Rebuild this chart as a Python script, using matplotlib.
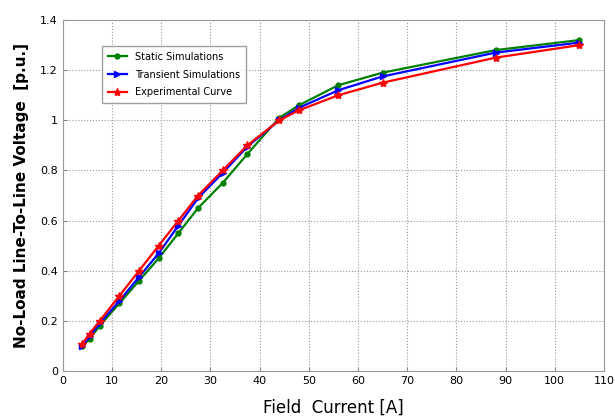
import matplotlib.pyplot as plt

field_current = [4, 5.5, 7.5, 11.5, 15.5, 19.5, 23.5, 27.5, 32.5, 37.5, 44, 48, 56, 65, 88, 105]
static_sim = [0.10, 0.13, 0.18, 0.27, 0.36, 0.45, 0.55, 0.65, 0.75, 0.865, 1.01, 1.06, 1.14, 1.19, 1.28, 1.32]
transient_sim = [0.10, 0.14, 0.19, 0.28, 0.375, 0.47, 0.58, 0.69, 0.79, 0.895, 1.0, 1.05, 1.12, 1.175, 1.27, 1.31]
experimental = [0.11, 0.15, 0.20, 0.30, 0.40, 0.50, 0.60, 0.70, 0.80, 0.90, 1.0, 1.04, 1.10, 1.15, 1.25, 1.30]

fig = plt.figure(figsize=(6.15, 4.17), dpi=100)
ax = fig.add_axes([0.102, 0.110, 0.880, 0.842])

ax.plot(field_current, static_sim, color="#008000", marker=".", markersize=7, lw=1.6, label="Static Simulations")
ax.plot(field_current, transient_sim, color="blue", marker=">", markersize=4.5, lw=1.6, label="Transient Simulations")
ax.plot(field_current, experimental, color="red", marker="*", markersize=6, lw=1.6, label="Experimental Curve")

ax.set_xlim(0, 110)
ax.set_ylim(0, 1.4)
ax.set_xticks(range(0, 111, 10))
ax.set_yticks([0, 0.2, 0.4, 0.6, 0.8, 1.0, 1.2, 1.4])
ax.set_yticklabels(["0", "0.2", "0.4", "0.6", "0.8", "1", "1.2", "1.4"])
ax.tick_params(labelsize=8, direction="in", length=3, color="#888888")
ax.grid(True, linestyle=":", color="#999999", lw=0.8)
for s in ax.spines.values():
    s.set_color("#999999")

ax.set_xlabel("Field  Current [A]", fontsize=12, labelpad=9)
ax.set_ylabel("No-Load Line-To-Line Voltage  [p.u.]", fontsize=11, fontweight="bold", labelpad=8)

leg = ax.legend(loc="upper left", bbox_to_anchor=(0.063, 0.94), fontsize=7, fancybox=False,
                edgecolor="#888888", handlelength=2.0, borderpad=0.6, labelspacing=0.8)

fig.savefig("out.png")
